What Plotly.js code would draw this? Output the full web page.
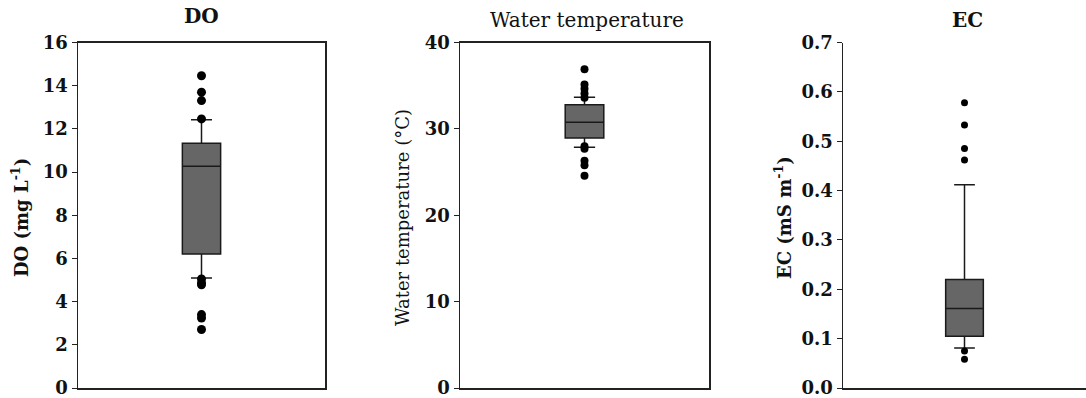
<!DOCTYPE html>
<html>
<head>
<meta charset="utf-8">
<script src="https://cdn.plot.ly/plotly-3.0.1.min.js"></script>
<style>html,body{margin:0;padding:0;background:#fff;}#chart{width:1086px;height:398px;}</style>
</head>
<body>
<div id="chart"></div>
<script>
// Panel names
const panelTitles = ["DO", "Water temperature", "EC"];
const axisTitles = ["DO (mg L<sup>-1</sup>)", "Water temperature (°C)", "EC (mS m<sup>-1</sup>)"];
// Box statistics per panel: DO, Water temperature, EC
const q1Vals = [6.21, 28.95, 0.105];
const medianVals = [10.27, 30.77, 0.161];
const q3Vals = [11.33, 32.8, 0.22];
const lowerWhisker = [5.09, 27.86, 0.081];
const upperWhisker = [12.42, 33.67, 0.412];
// Outliers
const doOutliers = [14.46, 13.7, 13.31, 12.46, 5.05, 4.86, 4.78, 3.4, 3.24, 2.71];
const tempOutliers = [36.9, 35.15, 34.65, 34.1, 33.6, 27.98, 27.7, 26.3, 25.8, 24.57];
const ecOutliers = [0.578, 0.533, 0.485, 0.462, 0.075, 0.058];
const outlierSets = [doOutliers, tempOutliers, ecOutliers];
// Axis ranges and ticks
const yRanges = [[0, 16], [0, 40], [0, 0.7]];
const yTickVals = [[0, 2, 4, 6, 8, 10, 12, 14, 16], [0, 10, 20, 30, 40], [0, 0.1, 0.2, 0.3, 0.4, 0.5, 0.6, 0.7]];
const yTickText = [["0","2","4","6","8","10","12","14","16"], ["0","10","20","30","40"], ["0.0","0.1","0.2","0.3","0.4","0.5","0.6","0.7"]];

const W = 1086, H = 398;
const xDom = [[78/W, 325/W], [460/W, 709/W], [843/W, 1.0]];
const yDom = [1 - 388/H, 1 - 42.5/H];
const markerSizes = [9, 8, 7];
const boldFlags = [true, false, true];
const SERIF = "DejaVu Serif, Liberation Serif, serif";

const traces = [];
const layout = {
  width: W, height: H,
  margin: {l: 0, r: 0, t: 0, b: 0},
  paper_bgcolor: "#fff", plot_bgcolor: "#fff",
  showlegend: false,
  font: {family: SERIF, color: "#111"},
  annotations: []
};

for (let i = 0; i < 3; i++) {
  const s = i === 0 ? "" : String(i + 1);
  const xa = "x" + s, ya = "y" + s;
  traces.push({
    type: "box", x: [0], xaxis: xa, yaxis: ya,
    q1: [q1Vals[i]], median: [medianVals[i]], q3: [q3Vals[i]],
    lowerfence: [lowerWhisker[i]], upperfence: [upperWhisker[i]],
    width: 0.31, whiskerwidth: 0.55,
    fillcolor: "#666666",
    line: {color: "#1a1a1a", width: 1.5},
    boxpoints: false, hoverinfo: "skip"
  });
  traces.push({
    type: "scatter", mode: "markers", xaxis: xa, yaxis: ya,
    x: outlierSets[i].map(() => 0), y: outlierSets[i],
    marker: {color: "#000", size: markerSizes[i]},
    hoverinfo: "y"
  });
  layout["xaxis" + s] = {
    domain: xDom[i], range: [-1, 1], anchor: ya,
    showticklabels: false, ticks: "", showgrid: false, zeroline: false,
    showline: true, mirror: i < 2 ? true : false, linecolor: "#222", linewidth: 1.5
  };
  layout["yaxis" + s] = {
    domain: yDom, range: yRanges[i], anchor: xa,
    tickvals: yTickVals[i], ticktext: yTickText[i],
    ticks: "outside", ticklen: 5, tickcolor: "#222", tickwidth: 1,
    ticklabeloverflow: "allow",
    showgrid: false, zeroline: false,
    showline: true, mirror: i < 2 ? true : false, linecolor: "#222", linewidth: 1.5,
    tickfont: {family: SERIF, size: 18, color: "#111", weight: "bold"}
  };
  const titleCenter = [201 / W, 587 / W, 967 / W][i];
  const titleY = [16, 20, 20][i];
  layout.annotations.push({
    xref: "paper", yref: "paper", x: titleCenter, y: 1 - titleY / H,
    xanchor: "center", yanchor: "middle", showarrow: false,
    text: boldFlags[i] ? "<b>" + panelTitles[i] + "</b>" : panelTitles[i],
    font: {family: SERIF, size: 20, color: "#111"}
  });
  const axX = [20, 402, 783][i];
  layout.annotations.push({
    xref: "paper", yref: "paper", x: axX / W, y: 1 - 218 / H,
    xanchor: "center", yanchor: "middle", showarrow: false, textangle: -90,
    text: boldFlags[i] ? "<b>" + axisTitles[i] + "</b>" : axisTitles[i],
    font: {family: SERIF, size: 18, color: "#111"}
  });
}

Plotly.newPlot("chart", traces, layout, {displayModeBar: false, staticPlot: true});
</script>
</body>
</html>
